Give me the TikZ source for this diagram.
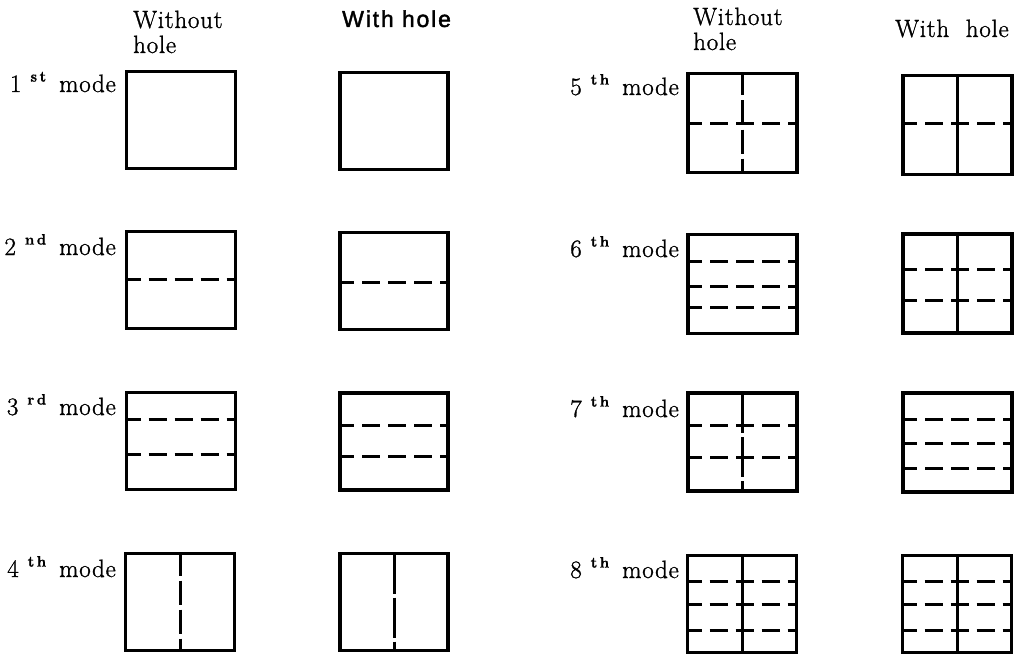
\documentclass[tikz,border=0pt]{standalone}
\usepackage{fontspec}
\setmainfont{Latin Modern Roman}[LetterSpace=3,FakeBold=1.2]
\newfontfamily\hdsans{Liberation Sans}[LetterSpace=8,FakeBold=1.8]
\usetikzlibrary{calc}
\newcommand\ordmark[1]{\hspace{9pt}\raisebox{0.42em}{\fontsize{15}{15}\selectfont\bfseries #1}}
\tikzset{
  panel/.style={draw, line width=3.2pt, minimum width=109pt, minimum height=97pt, inner sep=0pt, outer sep=0pt},
  nodal/.style={line width=3pt, dash pattern=on 18pt off 8pt, dash phase=4pt},
  vnodal/.style={line width=3pt, dash pattern=on 24pt off 5pt, dash phase=2pt},
  vlong/.style={line width=3pt, dash pattern=on 40pt off 4pt, dash phase=0pt},
  solidline/.style={line width=3pt},
  lbl/.style={font=\fontsize{25}{29}\selectfont, anchor=base east, inner sep=0pt},
  hdr/.style={font=\fontsize{25}{29}\selectfont, anchor=base west, inner sep=0pt},
}
\newcommand\hdsh[2]{\draw[nodal] ($(#1.north west)!#2!(#1.south west)$) -- ($(#1.north east)!#2!(#1.south east)$);}
\newcommand\vsep[2]{\draw[#2] (#1.north) -- (#1.south);}
\begin{document}
\begin{tikzpicture}[x=1pt,y=-1pt]
\useasboundingbox (0,0) rectangle (1024,658);
% headers
\node[hdr] (hA1) at (133,28) {Without};
\node[hdr] (hA2) at (133,53) {hole};
\node[hdr, font=\fontsize{23}{27}\selectfont\hdsans] (hB) at (342,27) {With hole};
\node[hdr] (hC1) at (693,25) {Without};
\node[hdr] (hC2) at (693,50) {hole};
\node[hdr] (hD) at (895,37) {With\ \ hole};
% labels
\node[lbl] (l1) at (116,92) {1\ordmark{s\,t}\hspace{13pt}mode};
\node[lbl] (l2) at (116,255) {2\ordmark{n\,d}\hspace{13pt}mode};
\node[lbl] (l3) at (116,415) {3\ordmark{r\,d}\hspace{13pt}mode};
\node[lbl] (l4) at (116,577) {4\ordmark{t\,h}\hspace{13pt}mode};
\node[lbl] (l5) at (679,95) {5\ordmark{t\,h}\hspace{13pt}mode};
\node[lbl] (l6) at (679,257) {6\ordmark{t\,h}\hspace{13pt}mode};
\node[lbl] (l7) at (679,417) {7\ordmark{t\,h}\hspace{13pt}mode};
\node[lbl] (l8) at (679,578) {8\ordmark{t\,h}\hspace{13pt}mode};
% panels
\node[panel] (A1) at (181,120) {};
\node[panel] (A2) at (181,280) {};
\node[panel] (A3) at (181,441) {};
\node[panel] (A4) at (180,602) {};
\node[panel, minimum width=108pt] (B1) at (394,121) {};
\node[panel, minimum width=108pt] (B2) at (394,281) {};
\node[panel, minimum width=108pt] (B3) at (394,441.5) {};
\node[panel, minimum width=108pt] (B4) at (394,602) {};
\node[panel, minimum height=99pt] (C1) at (742.5,123) {};
\node[panel, minimum height=99pt] (C2) at (742.5,284) {};
\node[panel, minimum height=98pt] (C3) at (742.5,442) {};
\node[panel] (C4) at (742,604) {};
\node[panel, minimum height=99pt] (D1) at (957.5,125) {};
\node[panel, minimum height=99pt] (D2) at (957.5,283.5) {};
\node[panel, minimum height=99pt] (D3) at (957.5,442.5) {};
\node[panel] (D4) at (957,604) {};
% nodal lines
\hdsh{A2}{0.49}
\hdsh{B2}{0.52}
\hdsh{A3}{0.28}\hdsh{A3}{0.64}
\hdsh{B3}{0.33}\hdsh{B3}{0.65}
\vsep{A4}{vnodal}
\vsep{B4}{vlong}
\hdsh{C1}{0.50}\vsep{C1}{vnodal}
\hdsh{D1}{0.48}\vsep{D1}{solidline}
\hdsh{C2}{0.27}\hdsh{C2}{0.53}\hdsh{C2}{0.74}
\hdsh{D2}{0.36}\hdsh{D2}{0.67}\vsep{D2}{solidline}
\hdsh{C3}{0.33}\hdsh{C3}{0.66}\vsep{C3}{vlong}
\hdsh{D3}{0.27}\hdsh{D3}{0.51}\hdsh{D3}{0.76}
\hdsh{C4}{0.27}\hdsh{C4}{0.51}\hdsh{C4}{0.77}\vsep{C4}{solidline}
\hdsh{D4}{0.27}\hdsh{D4}{0.51}\hdsh{D4}{0.77}\vsep{D4}{solidline}
\end{tikzpicture}
\end{document}
